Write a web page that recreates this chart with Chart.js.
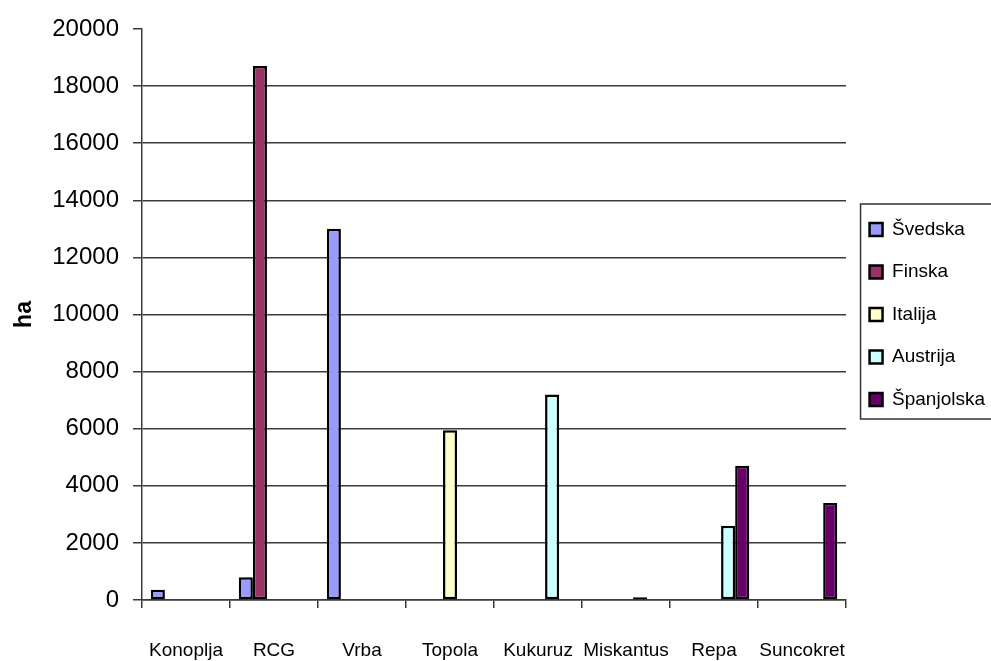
<!DOCTYPE html>
<html>
<head>
<meta charset="utf-8">
<script src="https://cdn.jsdelivr.net/npm/chart.js@4/dist/chart.umd.min.js"></script>
<style>
	html, body { margin: 0; padding: 0; background: #fff; overflow: hidden; }
	#wrap { width: 991px; height: 661px; overflow: hidden; }
	canvas { display: block; }
</style>
</head>
<body>
<div id="wrap"><canvas id="chart" width="995" height="661"></canvas></div>
<script>
// categories and values (ha)
const categories = ['Konoplja', 'RCG', 'Vrba', 'Topola', 'Kukuruz', 'Miskantus', 'Repa', 'Suncokret'];
const seriesNames = ['Švedska', 'Finska', 'Italija', 'Austrija', 'Španjolska'];
const svedska = [360, 800, 13000, null, null, null, null, null];
const finska = [null, 18700, null, null, null, null, null, null];
const italija = [null, null, null, 5950, null, null, null, null];
const austrija = [null, null, null, null, 7200, 100, 2600, null];
const spanjolska = [null, null, null, null, null, null, 4700, 3400];
const yTicks = [0, 2000, 4000, 6000, 8000, 10000, 12000, 14000, 16000, 18000, 20000];

const seriesColors = ['#9999FF', '#993366', '#FFFFCC', '#CCFFFF', '#660066'];
const gridColor = '#3a3a3a';
const fontFamily = '"Liberation Sans", Arial, sans-serif';

let chartEl = document.getElementById('chart');

// frame round the legend, open on the right like the cropped original
let legendFrame = {
	id: 'legendFrame',
	afterDraw (chart) {
		let boxes = chart.legend && chart.legend.legendHitBoxes;
		if (!boxes || !boxes.length) { return; }
		let { ctx } = chart;
		let first = boxes[0];
		let last = boxes[boxes.length - 1];
		let left = first.left - 9;
		let top = first.top - 16;
		let bottom = last.top + last.height + 10;
		ctx.save();
		ctx.lineWidth = 1.5;
		ctx.strokeStyle = '#333';
		ctx.strokeRect(left, top, chart.width - left + 20, bottom - top);
		ctx.restore();
	},
};

let datasets = [svedska, finska, italija, austrija, spanjolska].map((values, idx) => ({
	label: seriesNames[idx],
	data: values,
	backgroundColor: seriesColors[idx],
	borderColor: '#000',
	borderWidth: 2.5,
	borderSkipped: false,
	categoryPercentage: 0.8,
	barPercentage: 1,
}));

new Chart(chartEl, {
	type: 'bar',
	data: {
		labels: categories,
		datasets: datasets,
	},
	options: {
		responsive: false,
		devicePixelRatio: 1,
		animation: false,
		layout: {
			padding: { top: 29, left: 0, right: 0, bottom: 0 },
		},
		plugins: {
			legend: {
				position: 'right',
				fullSize: false,
				labels: {
					color: '#000',
					font: { family: fontFamily, size: 19 },
					boxWidth: 13,
					boxHeight: 13,
					padding: 23.5,
				},
			},
			tooltip: { enabled: false },
		},
		scales: {
			x: {
				grid: {
					display: true,
					drawOnChartArea: false,
					drawTicks: true,
					tickLength: 8,
					color: gridColor,
					lineWidth: 1.5,
				},
				border: { color: gridColor, width: 1.5 },
				ticks: {
					color: '#000',
					font: { family: fontFamily, size: 19 },
					padding: 31,
					maxRotation: 0,
					autoSkip: false,
				},
				afterFit (scale) { scale.height = 61; },
			},
			y: {
				min: 0,
				max: 20000,
				afterBuildTicks (scale) { scale.ticks = yTicks.map(v => ({ value: v })); },
				grid: {
					color: (ctx) => (ctx.tick && ctx.tick.value === 20000 ? 'rgba(0,0,0,0)' : gridColor),
					tickColor: gridColor,
					lineWidth: 1.5,
					tickLength: 9,
				},
				border: { color: gridColor, width: 1.5 },
				ticks: {
					color: '#000',
					font: { family: fontFamily, size: 24 },
					padding: 14,
					callback: (value) => String(value),
				},
				title: {
					display: true,
					text: 'ha',
					color: '#000',
					font: { family: fontFamily, size: 23, weight: 'bold' },
					padding: { top: 11, bottom: 0 },
				},
				afterFit (scale) { scale.width = 142; },
			},
		},
	},
	plugins: [ legendFrame ],
});
</script>
</body>
</html>
